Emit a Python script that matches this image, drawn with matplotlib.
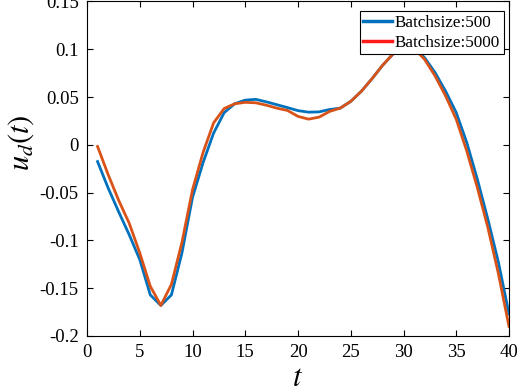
import matplotlib
matplotlib.use("Agg")
import matplotlib.pyplot as plt
from matplotlib.lines import Line2D

t = list(range(1, 41))
batch500 = [-0.0175, -0.045, -0.070, -0.094, -0.120, -0.157, -0.168, -0.157, -0.113, -0.055,
            -0.0186, 0.0123, 0.0337, 0.043, 0.0468, 0.0476, 0.045, 0.042, 0.039, 0.0358,
            0.0342, 0.0345, 0.037, 0.0384, 0.0455, 0.056, 0.069, 0.083, 0.095, 0.104,
            0.102, 0.0912, 0.0755, 0.056, 0.0337, 0.0023, -0.036, -0.078, -0.123, -0.177]
batch5000 = [-0.0017, -0.031, -0.058, -0.082, -0.113, -0.148, -0.168, -0.146, -0.102, -0.047,
             -0.008, 0.023, 0.038, 0.043, 0.0445, 0.044, 0.0415, 0.0384, 0.036, 0.0298,
             0.0269, 0.029, 0.035, 0.0384, 0.0455, 0.056, 0.069, 0.083, 0.095, 0.104,
             0.101, 0.0894, 0.072, 0.051, 0.0267, -0.0065, -0.0448, -0.0866, -0.135, -0.19]
labels = ["Batchsize:500", "Batchsize:5000"]
xticks = [0, 5, 10, 15, 20, 25, 30, 35, 40]
yticks = [-0.2, -0.15, -0.1, -0.05, 0, 0.05, 0.1, 0.15]
yticklabels = ["-0.2", "-0.15", "-0.1", "-0.05", "0", "0.05", "0.1", "0.15"]

plt.rcParams['font.family'] = ['Liberation Serif', 'DejaVu Serif']
plt.rcParams['mathtext.fontset'] = 'stix'

W, H = 518, 392
fig = plt.figure(figsize=(W / 100, H / 100), dpi=100)
ax = fig.add_axes([87 / W, 1 - 336 / H, (509 - 87) / W, (336 - 1.5) / H])

c_blue = '#0072BD'
c_red = '#D95319'
ax.plot(t, batch500, color=c_blue, lw=2.0)
ax.plot(t, batch5000, color=c_red, lw=2.0)

ax.set_xlim(0, 40)
ax.set_ylim(-0.2, 0.15)
ax.set_xticks(xticks)
ax.set_xticklabels([str(v) for v in xticks])
ax.set_yticks(yticks)
ax.set_yticklabels(yticklabels)
ax.tick_params(direction='in', top=True, right=True, labelsize=13.5, length=4, width=0.8, pad=6)
for s in ax.spines.values():
    s.set_linewidth(0.8)

ax.set_xlabel('$t$', fontsize=22, labelpad=2)
ax.set_ylabel('$u_d(t)$', fontsize=22)
ax.yaxis.set_label_coords(-0.122, 0.578)

handles = [Line2D([], [], color=c_blue, lw=2.5), Line2D([], [], color='#FF1A1A', lw=2.5)]
leg = ax.legend(handles, labels, loc='upper right', fontsize=12.3, frameon=True, fancybox=False,
                edgecolor='black', framealpha=1, borderpad=0.22, handlelength=1.65,
                handletextpad=0.2, labelspacing=0.22, borderaxespad=0,
                bbox_to_anchor=(504 / W, 1 - 11 / H), bbox_transform=fig.transFigure)
leg.get_frame().set_linewidth(0.8)

fig.savefig('out.png', dpi=100)
